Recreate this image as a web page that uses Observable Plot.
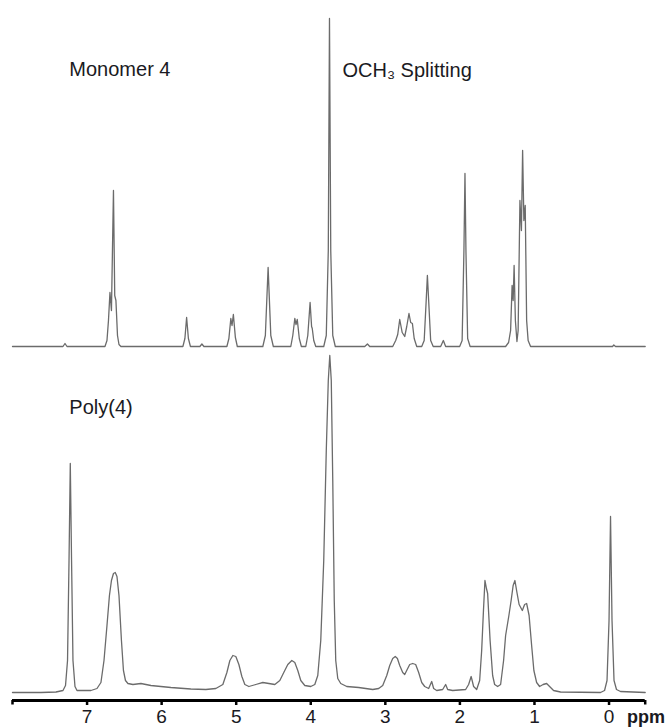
<!DOCTYPE html>
<html>
<head>
<meta charset="utf-8">
<script src="https://cdn.jsdelivr.net/npm/d3@7"></script>
<script src="https://cdn.jsdelivr.net/npm/@observablehq/plot@0.6"></script>
<style>
  html, body { margin: 0; padding: 0; background: #fff; }
  svg { display: block; }
</style>
</head>
<body>
<div id="chart"></div>
<script>
// ppm range of the chemical-shift axis (reversed, high ppm on the left)
const xDomain = [8.0, -0.485];
const tickValues = [7, 6, 5, 4, 3, 2, 1, 0];
const tickLabels = ["7", "6", "5", "4", "3", "2", "1", "0"];
const unitLabel = ["ppm"];

// Trace labels
const traceLabels = ["Monomer 4", "OCH\u2083 Splitting", "Poly(4)"];
const labelPpm = [7.238, 3.575, 7.238];
const labelLevel = [270.5, 270, 278.7];   // height above trace baseline
const labelTrace = ["monomer", "monomer", "polymer"];

// Monomer 4 spectrum: [ppm, intensity above its baseline]
const monomer = [
  [8.0,0],[7.323,0],[7.296,3],[7.269,0],
  [6.760,0],[6.733,6],[6.713,26],[6.693,54],[6.673,36],[6.646,156],[6.629,51],[6.613,46],[6.592,11],[6.572,2],[6.546,0],
  [5.715,0],[5.688,8],[5.665,29],[5.641,8],[5.614,0],
  [5.487,0],[5.460,2.5],[5.433,0],
  [5.125,0],[5.098,8],[5.072,28],[5.056,21],[5.038,32],[5.011,9],[4.985,0],
  [4.643,0],[4.609,11],[4.572,79],[4.536,11],[4.502,0],
  [4.268,0],[4.241,11],[4.214,28],[4.198,22],[4.181,27],[4.154,8],[4.126,0],
  [4.067,0],[4.040,11],[4.009,44],[3.989,20],[3.980,18],[3.960,6],[3.933,0],
  [3.826,0],[3.792,11],[3.765,96],[3.749,328],[3.732,96],[3.705,11],[3.671,0],
  [3.276,0],[3.240,2.5],[3.209,0],
  [2.901,0],[2.861,6],[2.834,12],[2.807,27],[2.774,14],[2.740,10],[2.713,20],[2.683,33],[2.660,24],[2.637,23],[2.613,8],[2.579,0],
  [2.512,0],[2.479,6],[2.452,46],[2.436,71],[2.419,46],[2.392,6],[2.358,0],
  [2.258,0],[2.222,6],[2.191,0],
  [2.003,0],[1.970,6],[1.946,96],[1.932,173],[1.919,96],[1.896,8],[1.863,0],
  [1.387,0],[1.347,4],[1.320,16],[1.300,61],[1.286,46],[1.273,81],[1.256,26],[1.235,5],[1.219,16],
  [1.195,146],[1.175,116],[1.159,196],[1.142,126],[1.124,141],[1.105,26],[1.085,6],[1.052,0],
  [-0.047,0],[-0.064,1.5],[-0.087,0],[-0.485,0]
];

// Poly(4) spectrum: [ppm, intensity above its baseline]
const polymer = [
  [8.0,0],[7.618,0],[7.417,0.5],[7.323,2],[7.289,7],[7.262,32],[7.242,132],[7.225,229],[7.208,132],[7.189,32],[7.162,6],[7.135,2],
  [6.948,2],[6.867,4],[6.814,10],[6.773,32],[6.733,67],[6.700,97],[6.673,112],[6.646,119],[6.622,120],[6.599,116],[6.572,97],
  [6.539,52],[6.512,22],[6.485,12],[6.452,9],[6.385,8],[6.278,9],[6.144,7],[5.876,5],[5.608,3.5],[5.407,3],[5.273,4],
  [5.179,8],[5.125,20],[5.085,32],[5.045,37],[5.005,36],[4.964,28],[4.924,16],[4.884,8],[4.830,6],
  [4.737,8],[4.643,10],[4.562,9],[4.482,8],
  [4.415,12],[4.362,20],[4.308,28],[4.254,32],[4.214,30],[4.174,22],[4.134,12],[4.080,7],[4.000,6],
  [3.946,8],[3.906,17],[3.866,52],[3.826,132],[3.792,242],[3.765,312],[3.745,337],[3.725,312],[3.705,212],[3.685,92],[3.665,32],[3.638,14],[3.598,9],
  [3.517,6],[3.357,5],[3.169,3],[3.089,4],
  [3.035,7],[2.981,17],[2.941,27],[2.901,34],[2.867,36],[2.838,34],[2.807,27],[2.767,20],[2.740,18],[2.707,23],[2.673,28],[2.633,29],[2.593,28],[2.553,20],[2.512,10],[2.472,6],
  [2.419,4],[2.378,11],[2.352,4],[2.311,2],[2.231,3],[2.191,8],[2.164,3],[2.097,2],
  [1.923,3],[1.883,8],[1.849,16],[1.816,6],[1.775,3],
  [1.735,12],[1.708,42],[1.684,82],[1.664,112],[1.644,104],[1.628,99],[1.595,52],[1.561,17],[1.534,8],[1.494,6],
  [1.454,8],[1.414,32],[1.387,57],[1.343,77],[1.313,92],[1.286,107],[1.262,112],[1.235,100],[1.206,88],[1.163,82],[1.132,88],[1.105,89],[1.072,77],[1.038,47],[1.008,22],[0.971,10],
  [0.931,6],[0.884,8],[0.837,9],[0.797,6],[0.744,2],[0.650,0.5],
  [0.114,0],[0.060,2],[0.027,12],[0.0,72],[-0.020,176],[-0.040,72],[-0.067,12],[-0.100,3],[-0.154,1],[-0.485,0]
];

// vertical stacking of the two traces (in y-scale units)
const baseLevel = { monomer: 354, polymer: 8 };

const labels = traceLabels.map((t, i) => ({
  text: t, pos: labelPpm[i], y: labelLevel[i] + baseLevel[labelTrace[i]]
}));

const traceColor = "#6b6b6b";
const textColor = "#1a1a22";

const chart = Plot.plot({
  width: 668,
  height: 727,
  marginLeft: 12,
  marginRight: 23.3,
  marginTop: 0,
  marginBottom: 27,
  x: { domain: xDomain, axis: null, label: null },
  y: { domain: [0, 700], axis: null, label: null },
  style: { fontFamily: "'Liberation Sans', Arial, sans-serif", background: "#fff", color: textColor },
  marks: [
    Plot.line(monomer, {
      x: d => d[0], y: d => d[1] + baseLevel.monomer,
      stroke: traceColor, strokeWidth: 1.3, strokeLinejoin: "round", curve: "linear"
    }),
    Plot.line(polymer, {
      x: d => d[0], y: d => d[1] + baseLevel.polymer,
      stroke: traceColor, strokeWidth: 1.3, strokeLinejoin: "round", curve: "linear"
    }),
    Plot.ruleY([0], { stroke: "#000", strokeWidth: 3 }),
    // small end hooks of the axis line
    Plot.ruleX(xDomain, { y1: 0, y2: -4.5, stroke: "#000", strokeWidth: 2.5 }),
    Plot.axisX({
      ticks: tickValues,
      tickFormat: d => tickLabels[tickValues.indexOf(d)],
      label: null,
      tickSize: 5,
      tickPadding: 4,
      fontSize: 19,
      stroke: "#000",
      strokeWidth: 2.5,
      fill: textColor
    }),
    Plot.text(unitLabel, {
      x: () => 0, y: () => 0, text: d => d,
      textAnchor: "start", lineAnchor: "top", dx: 18, dy: 10,
      fontSize: 18, fontWeight: "bold", fill: textColor
    }),
    Plot.text(labels, {
      x: "pos", y: "y", text: "text",
      textAnchor: "start", lineAnchor: "bottom",
      fontSize: 20, fill: textColor
    })
  ]
});

document.getElementById("chart").appendChild(chart);
</script>
</body>
</html>
